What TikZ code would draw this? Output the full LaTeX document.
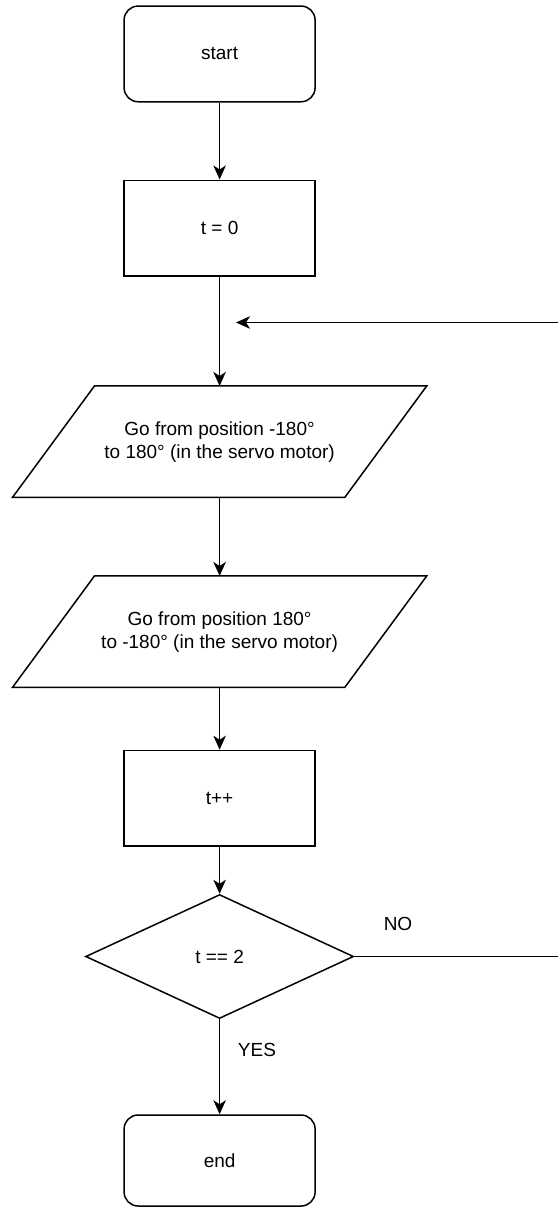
\documentclass[tikz,border=0pt]{standalone}
\usepackage{fontspec}
\setmainfont{Liberation Sans}
\usetikzlibrary{arrows.meta,shapes.geometric}
\begin{document}
\begin{tikzpicture}[x=1pt,y=-1pt,line width=1.5pt,
  every node/.style={font=\fontsize{19}{22.8}\selectfont,text=black},
  box/.style={draw,rectangle,minimum width=191pt,minimum height=95.7pt,inner sep=0pt,align=center},
  term/.style={box,rounded corners=14pt},
  io/.style={rectangle,minimum width=330.8pt,minimum height=110pt,inner sep=0pt,align=center},
  decision/.style={draw,diamond,minimum width=268pt,minimum height=124pt,inner sep=0pt},
  flow/.style={-{Stealth[length=14pt,width=12.5pt,inset=4pt]}},
  tag/.style={inner sep=0pt}]
\useasboundingbox (0,0) rectangle (558,1207);

% process steps
\node[term] (start) at (219.6,53.9) {start};
\node[box] (t0) at (219.6,228.1) {t = 0};
\node[io] (p1) at (219.6,441.7) {Go from position -180°\\to 180° (in the servo motor)};
\node[io] (p2) at (219.6,631.7) {Go from position 180°\\to -180° (in the servo motor)};
\node[box] (tpp) at (219.6,798.3) {t++};
\node[decision] (cond) at (219.6,956.5) {t == 2};
\node[term,minimum height=91pt] (end) at (219.6,1160.5) {end};

% parallelogram outlines around the two motor steps
\foreach \n in {p1,p2}
  \draw ([xshift=41pt]\n.north west) -- ([xshift=41pt]\n.north east)
        -- ([xshift=-41pt]\n.south east) -- ([xshift=-41pt]\n.south west) -- cycle;

% branch labels
\node[tag] (no) at (398,924) {NO};
\node[tag] (yes) at (257,1050) {YES};

% loop-back ends at the right margin
\coordinate (noend) at (558,956.5);
\coordinate (loopin) at (558,322.5);
\coordinate (looptip) at (236,322.5);

% connectors
\draw[flow] (start) -- (t0);
\draw[flow] (t0) -- (p1);
\draw[flow] (p1) -- (p2);
\draw[flow] (p2) -- (tpp);
\draw[flow] (tpp) -- (cond);
\draw[flow] (cond) -- (end);
\draw (cond.east) -- (noend);
\draw[flow] (loopin) -- (looptip);
\end{tikzpicture}
\end{document}
